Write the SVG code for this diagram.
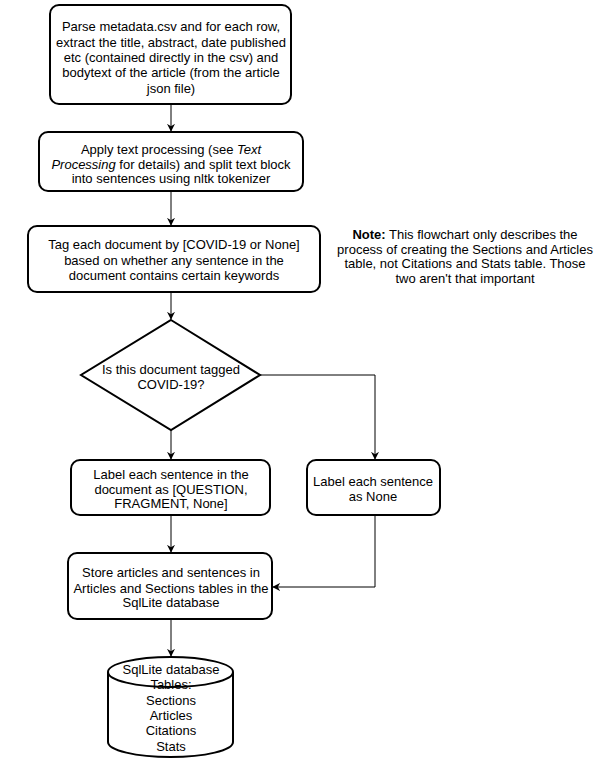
<svg xmlns="http://www.w3.org/2000/svg" width="603" height="761" viewBox="0 0 603 761">
<style>
.n{fill:#fff;stroke:#000;stroke-width:2}
.t{font-family:"Liberation Sans",Arial,sans-serif;font-size:13px;fill:#000;text-anchor:middle}
.c{fill:none;stroke:#000;stroke-width:1}
</style>
<defs>
<marker id="a" viewBox="0 0 10 10" refX="9" refY="5" markerWidth="8" markerHeight="8" markerUnits="userSpaceOnUse" orient="auto">
<path d="M0,0 L10,5 L0,10 L3,5 Z" fill="#000"/>
</marker>
</defs>
<g id="connectors">
<path class="c" d="M171,104 V131" marker-end="url(#a)"/>
<path class="c" d="M171,191 V225" marker-end="url(#a)"/>
<path class="c" d="M171,292 V319" marker-end="url(#a)"/>
<path class="c" d="M171,430 V459" marker-end="url(#a)"/>
<path class="c" d="M260,375 H375 V459" marker-end="url(#a)"/>
<path class="c" d="M171,515 V552" marker-end="url(#a)"/>
<path class="c" d="M375,515 V587 H273" marker-end="url(#a)"/>
<path class="c" d="M171,619 V656" marker-end="url(#a)"/>
</g>
<g id="parse">
<rect class="n" x="50" y="5" width="241" height="99" rx="9"/>
<text class="t" x="171" y="31">Parse metadata.csv and for each row,</text>
<text class="t" x="171" y="47">extract the title, abstract, date published</text>
<text class="t" x="171" y="62">etc (contained directly in the csv) and</text>
<text class="t" x="171" y="77">bodytext of the article (from the article</text>
<text class="t" x="171" y="93">json file)</text>
</g>
<g id="process">
<rect class="n" x="39" y="132" width="264" height="59" rx="9"/>
<text class="t" x="171" y="154">Apply text processing (see <tspan font-style="italic">Text</tspan></text>
<text class="t" x="171" y="169"><tspan font-style="italic">Processing</tspan> for details) and split text block</text>
<text class="t" x="171" y="183">into sentences using nltk tokenizer</text>
</g>
<g id="tag">
<rect class="n" x="28" y="226" width="292" height="66" rx="9"/>
<text class="t" x="174" y="249">Tag each document by [COVID-19 or None]</text>
<text class="t" x="174" y="265">based on whether any sentence in the</text>
<text class="t" x="174" y="280">document contains certain keywords</text>
</g>
<g id="note">
<text class="t" x="465" y="239"><tspan font-weight="bold">Note:</tspan> This flowchart only describes the</text>
<text class="t" x="465" y="254">process of creating the Sections and Articles</text>
<text class="t" x="465" y="268">table, not Citations and Stats table. Those</text>
<text class="t" x="465" y="283">two aren't that important</text>
</g>
<g id="decision">
<path class="n" d="M171,320 L260,375 L171,430 L81,375 Z"/>
<text class="t" x="171" y="374">Is this document tagged</text>
<text class="t" x="171" y="389">COVID-19?</text>
</g>
<g id="label-covid">
<rect class="n" x="71" y="460" width="199" height="55" rx="9"/>
<text class="t" x="171" y="479">Label each sentence in the</text>
<text class="t" x="171" y="494">document as [QUESTION,</text>
<text class="t" x="171" y="508">FRAGMENT, None]</text>
</g>
<g id="label-none">
<rect class="n" x="307" y="460" width="133" height="55" rx="9"/>
<text class="t" x="373" y="486">Label each sentence</text>
<text class="t" x="373" y="501">as None</text>
</g>
<g id="store">
<rect class="n" x="68" y="553" width="204" height="66" rx="9"/>
<text class="t" x="171" y="577">Store articles and sentences in</text>
<text class="t" x="171" y="593">Articles and Sections tables in the</text>
<text class="t" x="171" y="607">SqlLite database</text>
</g>
<g id="database">
<path class="n" d="M108,672 A62.5,15 0 0 1 233,672 V742 A62.5,15 0 0 1 108,742 Z"/>
<path class="n" fill="none" d="M108,672 A62.5,15 0 0 0 233,672"/>
<text class="t" x="171" y="674">SqlLite database</text>
<text class="t" x="171" y="689">Tables:</text>
<text class="t" x="171" y="705">Sections</text>
<text class="t" x="171" y="720">Articles</text>
<text class="t" x="171" y="735">Citations</text>
<text class="t" x="171" y="751">Stats</text>
</g>
</svg>
